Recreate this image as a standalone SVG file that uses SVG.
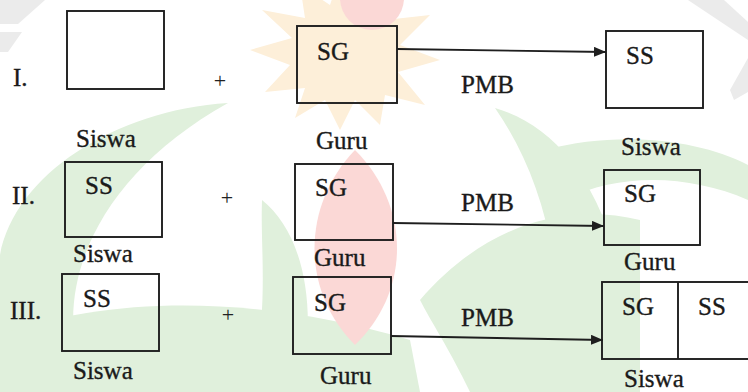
<svg xmlns="http://www.w3.org/2000/svg" width="748" height="392" viewBox="0 0 748 392">
<defs>
<style>
.t{font-family:"Liberation Serif","Times New Roman",serif;font-size:25px;fill:#1a1a1a;stroke:#1a1a1a;stroke-width:0.35}
.p{font-family:"Liberation Serif","Times New Roman",serif;font-size:22px;fill:#222;text-anchor:middle}
.b{fill:none;stroke:#1e1e1e;stroke-width:1.9}
.c{fill:none;stroke:#1e1e1e;stroke-width:1.9}
.g{fill:#e0f0dc}
.k{fill:#ebebeb}
.r{fill:#fbd8d6}
.y{fill:#fdefd9}
</style>
<marker id="ah" viewBox="0 0 12 10" refX="12" refY="5" markerWidth="12" markerHeight="10" markerUnits="userSpaceOnUse" orient="auto">
<path d="M0,0 L12,5 L0,10 Z" fill="#1e1e1e"/>
</marker>
</defs>
<rect width="748" height="392" fill="#ffffff"/>
<g id="watermark">
<polygon class="k" points="0,0 45,0 18,24 0,24"/>
<polygon class="k" points="0,32 22,32 8,52 0,52"/>
<polygon class="k" points="688,0 724,0 748,22 748,40"/>
<polygon class="k" points="748,58 748,92 734,100 730,90"/>
<polygon class="y" points="345,-40 360,0 395,-15 385,20 430,15 400,45 440,60 398,72 425,105 385,95 380,125 355,100 340,130 325,100 295,118 305,88 265,92 290,65 250,50 292,38 262,10 305,18 300,-15 330,5"/>
<circle class="r" cx="372" cy="-2" r="32"/>
<path class="g" d="M228,103 C115,110 15,175 0,255 L0,392 L90,392 C45,300 90,180 228,103 Z"/>
<path class="g" d="M0,335 C110,295 260,295 410,340 L420,392 L0,392 Z"/>
<path class="g" d="M262,200 C300,230 320,300 300,392 L250,392 C270,310 260,250 262,200 Z"/>
<path class="g" d="M495,108 C570,130 625,210 640,392 L560,392 C565,270 545,180 495,108 Z"/>
<path class="g" d="M545,150 C620,130 700,140 748,165 L748,200 C690,175 620,172 565,200 Z"/>
<path class="g" d="M420,300 C480,230 560,200 640,220 L640,392 L470,392 C450,350 430,320 420,300 Z"/>
<path class="r" d="M355,150 C410,205 412,290 355,345 C300,290 302,205 355,150 Z"/>
</g>
<g id="connectors">
<line class="c" x1="397" y1="49" x2="606" y2="52" marker-end="url(#ah)"/>
<line class="c" x1="393" y1="223" x2="604" y2="226" marker-end="url(#ah)"/>
<line class="c" x1="391" y1="336" x2="603" y2="340" marker-end="url(#ah)"/>
</g>
<g id="labels">
<text class="t" x="13" y="86">I.</text>
<text class="t" x="12" y="204">II.</text>
<text class="t" x="10" y="319">III.</text>
<text class="p" x="220" y="88">+</text>
<text class="p" x="227" y="205">+</text>
<text class="p" x="228" y="322">+</text>
<text class="t" x="461" y="93">PMB</text>
<text class="t" x="461" y="211">PMB</text>
<text class="t" x="461" y="326">PMB</text>
</g>
<g id="siswa1">
<rect class="b" x="67" y="11" width="97" height="78"/>
<text class="t" x="76" y="147">Siswa</text>
</g>
<g id="guru1">
<rect class="b" x="297" y="26" width="100" height="77"/>
<text class="t" x="317" y="60">SG</text>
<text class="t" x="316" y="149">Guru</text>
</g>
<g id="siswa1-out">
<rect class="b" x="606" y="31" width="97" height="77"/>
<text class="t" x="626" y="64">SS</text>
<text class="t" x="621" y="155">Siswa</text>
</g>
<g id="siswa2">
<rect class="b" x="65" y="162" width="97" height="75"/>
<text class="t" x="85" y="194">SS</text>
<text class="t" x="73" y="262">Siswa</text>
</g>
<g id="guru2">
<rect class="b" x="295" y="164" width="98" height="76"/>
<text class="t" x="315" y="196">SG</text>
<text class="t" x="314" y="266">Guru</text>
</g>
<g id="guru2-out">
<rect class="b" x="604" y="170" width="96" height="75"/>
<text class="t" x="624" y="202">SG</text>
<text class="t" x="624" y="270">Guru</text>
</g>
<g id="siswa3">
<rect class="b" x="62" y="274" width="97" height="77"/>
<text class="t" x="83" y="307">SS</text>
<text class="t" x="73" y="379">Siswa</text>
</g>
<g id="guru3">
<rect class="b" x="293" y="277" width="98" height="77"/>
<text class="t" x="314" y="311">SG</text>
<text class="t" x="320" y="384">Guru</text>
</g>
<g id="siswa3-out">
<rect class="b" x="602" y="282" width="160" height="77"/>
<line class="b" x1="678" y1="282" x2="678" y2="359"/>
<text class="t" x="622" y="315">SG</text>
<text class="t" x="698" y="315">SS</text>
<text class="t" x="624" y="387">Siswa</text>
</g>
</svg>
